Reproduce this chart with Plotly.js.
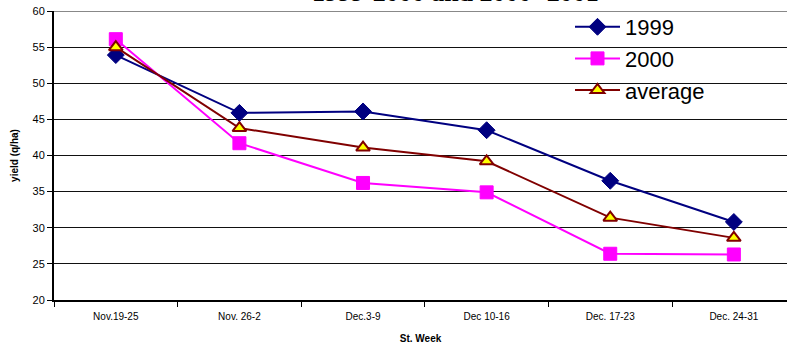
<!DOCTYPE html>
<html>
<head>
<meta charset="utf-8">
<script src="https://cdn.plot.ly/plotly-3.0.1.min.js"></script>
<style>html,body{margin:0;padding:0;background:#fff;}#chart{width:787px;height:351px;}</style>
</head>
<body>
<div id="chart"></div>
<script>
const weeks = ["Nov.19-25", "Nov. 26-2", "Dec.3-9", "Dec 10-16", "Dec. 17-23", "Dec. 24-31"];
const y1999 = [53.9, 45.9, 46.1, 43.5, 36.5, 30.8];
const y2000 = [56.1, 41.7, 36.2, 34.9, 26.4, 26.3];
const yAverage = [55.0, 43.8, 41.1, 39.2, 31.4, 28.6];
const yTicks = [20, 25, 30, 35, 40, 45, 50, 55, 60];

const traces = [
  {x: weeks, y: y1999, name: "1999", type: "scatter", mode: "lines+markers",
   line: {color: "#000080", width: 2},
   marker: {symbol: "diamond", size: 13, color: "#000080", line: {color: "#000080", width: 1}}},
  {x: weeks, y: y2000, name: "2000", type: "scatter", mode: "lines+markers",
   line: {color: "#FF00FF", width: 2},
   marker: {symbol: "square", size: 13, color: "#FF00FF", line: {color: "#FF00FF", width: 1}}},
  {x: weeks, y: yAverage, name: "average", type: "scatter", mode: "lines+markers",
   line: {color: "#800000", width: 2},
   marker: {symbol: "triangle-up", size: 12, color: "#FFFF00", line: {color: "#800000", width: 2}}}
];

const layout = {
  width: 787, height: 351,
  margin: {l: 54, r: 0, t: 11, b: 51, pad: 0},
  paper_bgcolor: "#fff", plot_bgcolor: "#fff",
  font: {family: "Arial, 'Liberation Sans', sans-serif", color: "#000"},
  showlegend: true,
  legend: {x: (570 - 54) / 733, y: 1 + 5 / 289, xanchor: "left", yanchor: "top",
           bgcolor: "rgba(0,0,0,0)", itemwidth: 45,
           font: {size: 22, family: "Arial, 'Liberation Sans', sans-serif"}, tracegroupgap: 0},
  xaxis: {type: "category", range: [-0.5, 5.43], tickson: "boundaries", ticks: "outside",
          ticklen: 5, tickcolor: "#000", showline: true, linecolor: "#000", linewidth: 2,
          showgrid: false, zeroline: false, tickfont: {size: 10}, ticklabelstandoff: 6,
          title: {text: "<b>St. Week</b>", font: {size: 10}, standoff: 14}},
  yaxis: {range: [20, 60], tickvals: yTicks, ticks: "outside", ticklen: 5, tickcolor: "#000",
          showline: true, linecolor: "#000", linewidth: 2, showgrid: true, gridcolor: "#111",
          gridwidth: 1, zeroline: false, tickfont: {size: 11},
          title: {text: "<b>yield (q/ha)</b>", font: {size: 10}, standoff: 12}},
  shapes: [
    {type: "rect", xref: "paper", yref: "y", x0: (550 - 54) / 733, x1: (721 - 54) / 733,
     y0: 47.3, y1: 59.6, fillcolor: "#fff", line: {width: 0}, layer: "below"},
    {type: "line", xref: "paper", yref: "y", x0: 0, x1: 1, y0: 60, y1: 60,
     line: {color: "#888", width: 2}, layer: "below"}
  ],
  annotations: [{text: "<b>1999-2000 and 2000- 2001</b>", xref: "paper", yref: "paper",
                 x: (455 - 54) / 733, y: 1 + 2 / 289, xanchor: "center", yanchor: "bottom",
                 showarrow: false, font: {family: "'Liberation Serif', 'Times New Roman', serif", size: 26}}]
};

Plotly.newPlot("chart", traces, layout, {displayModeBar: false, staticPlot: true});
</script>
</body>
</html>
